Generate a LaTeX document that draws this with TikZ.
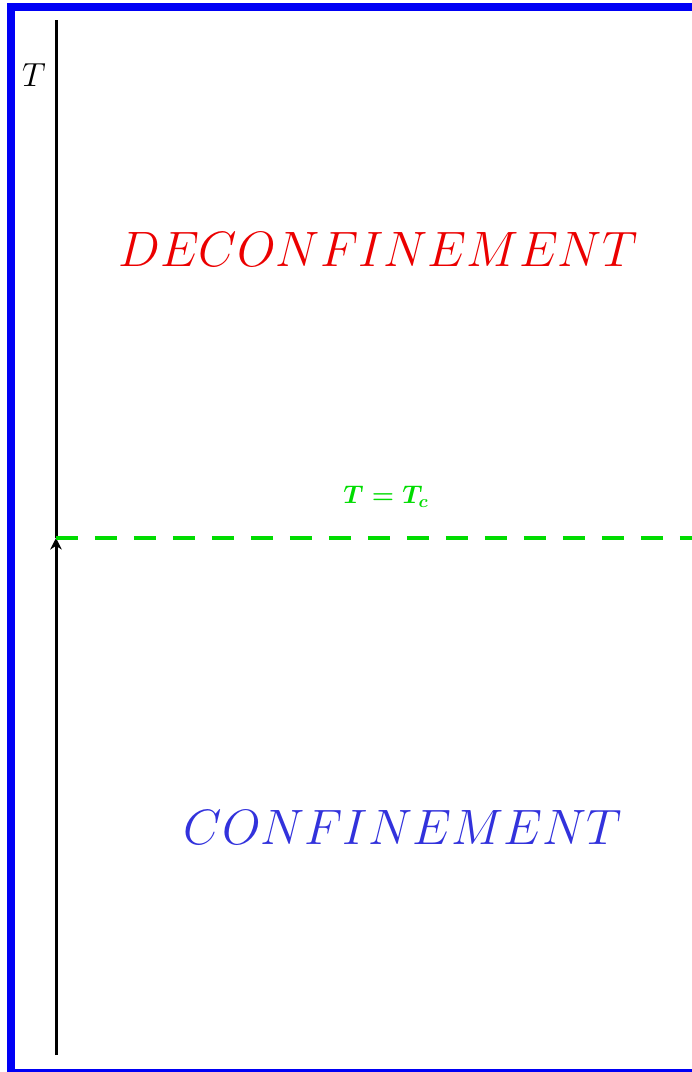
\RequirePackage{fix-cm}
\documentclass[tikz,border=0pt]{standalone}
\usepackage{amsmath,amssymb}
\usepackage{xcolor}
\usepackage{tikz}
\usetikzlibrary{arrows.meta}

\definecolor{phasered}{RGB}{235,0,0}
\definecolor{phaseblue}{RGB}{50,50,220}
\definecolor{critgreen}{RGB}{0,220,0}
\definecolor{framecol}{RGB}{0,0,245}

\begin{document}
\begin{tikzpicture}[
  x=0.02cm, y=-0.02cm,
  frm/.style={draw=framecol, line width=0.16cm},
  axis/.style={line width=0.06cm, draw=black},
  critline/.style={draw=critgreen, line width=0.07cm, dash pattern=on 0.44cm off 0.34cm},
  phase/.style={font=\fontsize{28.3}{34}\selectfont, inner sep=0pt},
  arr/.style={-{Stealth[length=2.3mm,width=2.3mm]}}
]
\useasboundingbox (0,0) rectangle (692,1072);

%% Frame (cut at the right and bottom)
\draw[frm] (11,7) rectangle (720,1072.5);

%% Temperature axis
\coordinate (tbot) at (56,1055);
\coordinate (tcross) at (56,538);
\coordinate (ttop) at (56,20);
\draw[axis, arr] (tbot) -- (tcross);
\draw[axis] (tcross) -- (ttop);
\node[font=\fontsize{19}{23}\selectfont] (tlab) at (34,75) {$T$};

%% Critical line
\coordinate (critend) at (700,538);
\draw[critline] (tcross) -- (critend);
\node[font=\fontsize{14.5}{17}\selectfont, text=critgreen] (critlab) at (386,497) {$\boldsymbol{T=T_c}$};

%% Phases
\node[phase, text=phasered] (deconf) at (378,250) {$DECONFINEMENT$};
\node[phase, text=phaseblue] (conf) at (403,828) {$CONFINEMENT$};
\end{tikzpicture}
\end{document}
